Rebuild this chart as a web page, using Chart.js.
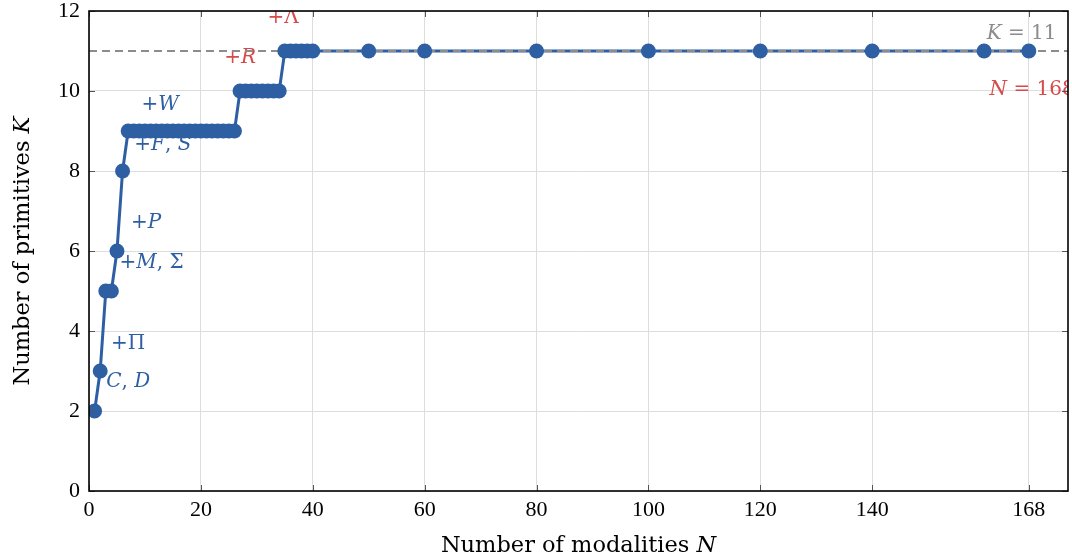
<!DOCTYPE html>
<html><head><meta charset="utf-8">
<script src="https://cdn.jsdelivr.net/npm/chart.js@4/dist/chart.umd.min.js"></script>
<style>html,body{margin:0;padding:0;background:#fff}canvas{display:block}</style>
</head><body>
<canvas id="c" width="1072" height="560"></canvas>
<script>
// ---- data ----
const modalitiesN = [1,2,3,4,5,6,7,8,9,10,11,12,13,14,15,16,17,18,19,20,21,22,23,24,25,26,27,28,29,30,31,32,33,34,35,36,37,38,39,40,50,60,80,100,120,140,160,168];
const primitivesK = [2,3,5,5,6,8,9,9,9,9,9,9,9,9,9,9,9,9,9,9,9,9,9,9,9,9,10,10,10,10,10,10,10,10,11,11,11,11,11,11,11,11,11,11,11,11,11,11];
const xTickValues = [0,20,40,60,80,100,120,140,168];
const yTickValues = [0,2,4,6,8,10,12];
const referenceK = 11;
const xRange = [0,175];
const yRange = [0,12];

// ---- styles ----
const BLUE = '#2e5fa3';
const RED = '#d64a4a';
const GRAY = '#8c8c8c';
const TICKFONT = '"Liberation Serif", serif';
const TEXTFONT = '"DejaVu Serif", serif';
const TICKFS = 22;
const TITLEFS = 22.5;
const ANNFS = 20;

// annotation labels: segments [text, italic], anchored at data coords (center)
const annotations = [
  {seg:[['+',0],['Λ',0]], x:34.7, y:11.83, color:RED},
  {seg:[['+',0],['R',1]], x:27.0, y:10.83, color:RED},
  {seg:[['+',0],['W',1]], x:12.7, y:9.65, color:BLUE},
  {seg:[['+',0],['F',1],[', ',0],['S',1]], x:13.2, y:8.65, color:BLUE},
  {seg:[['+',0],['P',1]], x:10.2, y:6.7, color:BLUE},
  {seg:[['+',0],['M',1],[', Σ',0]], x:11.2, y:5.7, color:BLUE},
  {seg:[['+Π',0]], x:7.0, y:3.68, color:BLUE},
  {seg:[['C',1],[', ',0],['D',1]], x:7.0, y:2.73, color:BLUE},
  {seg:[['K',1],[' = 11',0]], x:166.7, y:11.42, color:GRAY},
  {seg:[['N',1],[' = 168',0]], x:168.6, y:10.03, color:RED}
];

function segFont(it, fs){ return (it ? 'italic ' : '') + fs + 'px ' + TEXTFONT; }
function segWidth(ctx, seg, fs){ let w=0; for(const [t,it] of seg){ ctx.font=segFont(it,fs); w+=ctx.measureText(t).width; } return w; }
function drawSeg(ctx, seg, cx, cy, color, fs){
  const w = segWidth(ctx, seg, fs); let x = cx - w/2;
  ctx.fillStyle = color; ctx.textBaseline='middle'; ctx.textAlign='left';
  for(const [t,it] of seg){ ctx.font=segFont(it,fs); ctx.fillText(t,x,cy); x+=ctx.measureText(t).width; }
}

const decor = {
  id:'decor',
  beforeDatasetsDraw(chart){
    const {ctx, chartArea:a, scales:{x,y}} = chart;
    ctx.save();
    ctx.beginPath(); ctx.rect(a.left,a.top,a.right-a.left,a.bottom-a.top); ctx.clip();
    for(const an of annotations){ drawSeg(ctx, an.seg, x.getPixelForValue(an.x), y.getPixelForValue(an.y), an.color, ANNFS); }
    ctx.restore();
  },
  afterDraw(chart){
    const {ctx, chartArea:a, scales:{x,y}} = chart;
    ctx.save();
    // inner ticks
    ctx.strokeStyle='#555'; ctx.lineWidth=1;
    const L=6;
    ctx.beginPath();
    for(const v of xTickValues){ const px=Math.round(x.getPixelForValue(v))+0.5;
      ctx.moveTo(px,a.bottom); ctx.lineTo(px,a.bottom-L); ctx.moveTo(px,a.top); ctx.lineTo(px,a.top+L); }
    for(const v of yTickValues){ const py=Math.round(y.getPixelForValue(v))+0.5;
      ctx.moveTo(a.left,py); ctx.lineTo(a.left+L,py); ctx.moveTo(a.right,py); ctx.lineTo(a.right-L,py); }
    ctx.stroke();
    // frame
    ctx.strokeStyle='#000'; ctx.lineWidth=1.6;
    ctx.strokeRect(a.left,a.top,a.right-a.left,a.bottom-a.top);
    // axis titles
    const xt=[['Number of modalities ',0],['N',1]];
    drawSeg(ctx, xt, (a.left+a.right)/2, 546, '#000', TITLEFS);
    ctx.translate(23,(a.top+a.bottom)/2); ctx.rotate(-Math.PI/2);
    const yt=[['Number of primitives ',0],['K',1]];
    drawSeg(ctx, yt, 0, 0, '#000', TITLEFS);
    ctx.restore();
  }
};

const pts = modalitiesN.map((n,i)=>({x:n,y:primitivesK[i]}));

new Chart(document.getElementById('c'), {
  type:'line',
  data:{datasets:[
    {data:pts, borderColor:BLUE, borderWidth:3, pointRadius:0, fill:false, tension:0, order:3},
    {data:[{x:xRange[0],y:referenceK},{x:xRange[1],y:referenceK}], borderColor:GRAY, borderWidth:2, borderDash:[8,5], pointRadius:0, fill:false, order:2},
    {data:pts, showLine:false, pointRadius:7.5, pointBackgroundColor:BLUE, pointBorderWidth:0, pointBorderColor:BLUE, order:1}
  ]},
  options:{
    responsive:false, animation:false, maintainAspectRatio:false, devicePixelRatio:1,
    layout:{autoPadding:false, padding:{left:0,right:4,top:11,bottom:0}},
    plugins:{legend:{display:false}, tooltip:{enabled:false}},
    scales:{
      x:{type:'linear', min:xRange[0], max:xRange[1],
        afterBuildTicks(s){ s.ticks = xTickValues.map(v=>({value:v})); },
        afterFit(s){ s.height = 69; s.paddingRight = 0; s.paddingLeft = 0; },
        grid:{color:'#dddddd', lineWidth:1, drawTicks:false},
        border:{display:false},
        ticks:{color:'#000', font:{family:TICKFONT,size:TICKFS}, padding:6, maxRotation:0, autoSkip:false}
      },
      y:{type:'linear', min:yRange[0], max:yRange[1],
        afterBuildTicks(s){ s.ticks = yTickValues.map(v=>({value:v})); },
        afterFit(s){ s.width = 89; s.paddingTop = 0; s.paddingBottom = 0; },
        grid:{color:'#dddddd', lineWidth:1, drawTicks:false},
        border:{display:false},
        ticks:{color:'#000', font:{family:TICKFONT,size:TICKFS}, padding:9}
      }
    }
  },
  plugins:[decor]
});
</script>
</body></html>
